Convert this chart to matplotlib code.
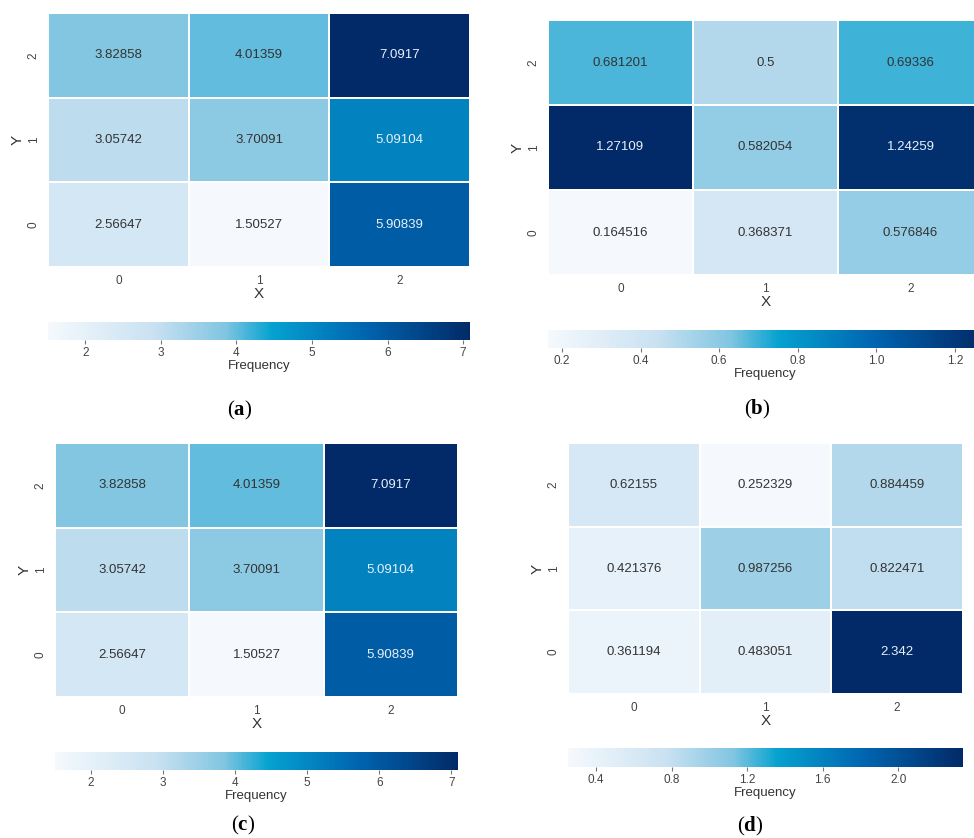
import numpy as np
import matplotlib
matplotlib.use("Agg")
from matplotlib import pyplot as plt
from matplotlib.colors import LinearSegmentedColormap

# cell values, rows listed from Y=0 (bottom) to Y=2 (top), columns X=0..2
freq_a = [[2.56647, 1.50527, 5.90839],
          [3.05742, 3.70091, 5.09104],
          [3.82858, 4.01359, 7.0917]]
freq_b = [[0.164516, 0.368371, 0.576846],
          [1.27109, 0.582054, 1.24259],
          [0.681201, 0.5, 0.69336]]
freq_c = [[2.56647, 1.50527, 5.90839],
          [3.05742, 3.70091, 5.09104],
          [3.82858, 4.01359, 7.0917]]
freq_d = [[0.361194, 0.483051, 2.342],
          [0.421376, 0.987256, 0.822471],
          [0.62155, 0.252329, 0.884459]]

x_labels = ["0", "1", "2"]
y_labels = ["0", "1", "2"]

cbar_ticks_a = [2, 3, 4, 5, 6, 7]
cbar_ticks_b = [0.2, 0.4, 0.6, 0.8, 1.0, 1.2]
cbar_ticks_c = [2, 3, 4, 5, 6, 7]
cbar_ticks_d = [0.4, 0.8, 1.2, 1.6, 2.0]

panel_names = ["a", "b", "c", "d"]

plt.rcParams["font.family"] = ["Liberation Sans", "DejaVu Sans"]
plt.rcParams["mathtext.fontset"] = "custom"
plt.rcParams["mathtext.rm"] = "Liberation Serif"
plt.rcParams["mathtext.bf"] = "Liberation Serif:bold"

cmap = LinearSegmentedColormap.from_list("freq", [
    (0.00, "#f5f9fd"),
    (0.25, "#c9e1f1"),
    (0.42, "#80c5e1"),
    (0.53, "#05a2d0"),
    (0.75, "#0065b0"),
    (1.00, "#022a68"),
])

W, H = 974, 838
fig = plt.figure(figsize=(W / 100, H / 100), dpi=100)


def px_axes(x, y, w, h):
    return fig.add_axes([x / W, 1 - (y + h) / H, w / W, h / H])


def draw_panel(data, ticks, heat_box, cbar_box, label_xy, name):
    data = np.array(data)
    vmin, vmax = data.min(), data.max()
    ax = px_axes(*heat_box)
    mesh = ax.pcolormesh(np.arange(4), np.arange(4), data, cmap=cmap,
                         vmin=vmin, vmax=vmax, edgecolor="white", linewidth=1.2)
    for i in range(3):
        for j in range(3):
            v = data[i, j]
            frac = (v - vmin) / (vmax - vmin)
            ax.text(j + 0.5, i + 0.5, f"{v:g}", ha="center", va="center",
                    fontsize=9.5, color="#e8f0f8" if frac > 0.6 else "#333333")
    ax.set_xlim(0, 3)
    ax.set_ylim(0, 3)
    ax.set_xticks(np.arange(3) + 0.5, x_labels)
    ax.set_yticks(np.arange(3) + 0.5, y_labels, rotation=90, va="center")
    ax.tick_params(length=0, labelsize=8.5, labelcolor="#444444", pad=6)
    ax.set_xlabel("X", fontsize=11, color="#333333", labelpad=0)
    ax.set_ylabel("Y", fontsize=11, color="#333333", labelpad=2)
    for s in ax.spines.values():
        s.set_visible(False)

    cax = px_axes(*cbar_box)
    cb = fig.colorbar(mesh, cax=cax, orientation="horizontal", ticks=ticks)
    cb.outline.set_visible(False)
    cax.tick_params(length=3, width=0.8, color="#777777", labelsize=8.5,
                    labelcolor="#444444", pad=2)
    cb.set_label("Frequency", fontsize=9.5, color="#333333", labelpad=1)

    fig.text(label_xy[0] / W, 1 - label_xy[1] / H,
             r"$\mathrm{(}\mathbf{" + name + r"}\mathrm{)}$",
             ha="center", va="center", fontsize=15)


draw_panel(freq_a, cbar_ticks_a, (48, 13, 422, 254), (48, 322, 422, 18), (240, 410), panel_names[0])
draw_panel(freq_b, cbar_ticks_b, (548, 20, 435, 255), (548, 330, 435, 18), (757, 409), panel_names[1])
draw_panel(freq_c, cbar_ticks_c, (55, 443, 403, 254), (55, 752, 403, 18), (243, 825), panel_names[2])
draw_panel(freq_d, cbar_ticks_d, (568, 443, 395, 251), (568, 748, 395, 19), (750, 826), panel_names[3])

fig.savefig("out.png", dpi=100, facecolor="white")
